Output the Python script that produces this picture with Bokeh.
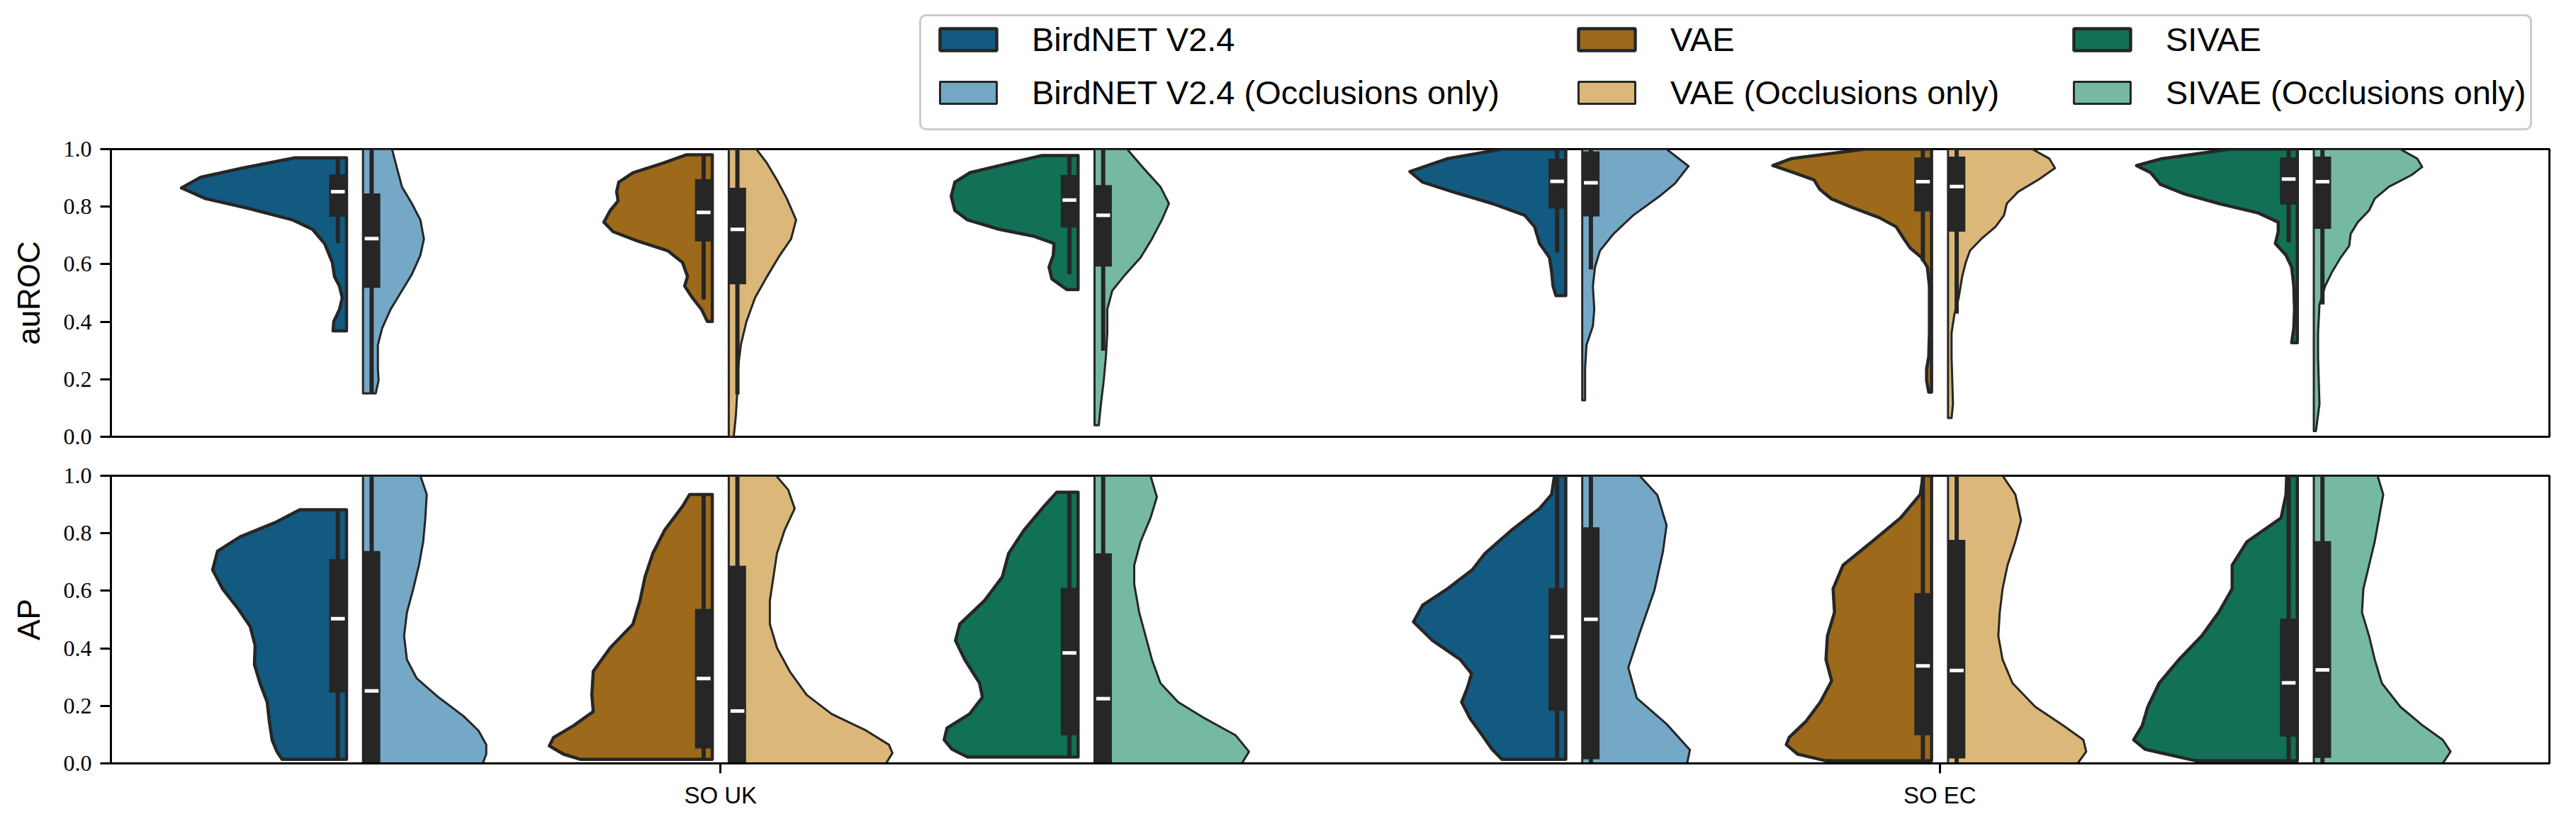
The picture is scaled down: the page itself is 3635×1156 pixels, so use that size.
from bokeh.plotting import figure
from bokeh.layouts import column
from bokeh.models import (Legend, LegendItem, FixedTicker, Range1d, ColumnDataSource,
                          PrintfTickFormatter, BoxAnnotation)
from bokeh.embed import file_html
from bokeh.resources import INLINE

# ---------------------------------------------------------------- data
categories = ["SO UK", "SO EC"]
models = ["BirdNET V2.4", "VAE", "SIVAE"]
variant_suffix = ["", " (Occlusions only)"]
metrics = ["auROC", "AP"]
y_ticks = [0.0, 0.2, 0.4, 0.6, 0.8, 1.0]

# Each violin half: values (top -> bottom), relative density at those values,
# box stats [q1, median, q3, whisker_low, whisker_high]
# ---- auROC
A_UK_BN_V = [0.970, 0.934, 0.902, 0.865, 0.828, 0.795, 0.754, 0.721, 0.672, 0.606, 0.557, 0.524, 0.483, 0.442, 0.401, 0.368]
A_UK_BN_D = [73, 147, 206, 233, 199, 140, 76, 48, 31, 20, 17, 10, 6, 10, 18, 19]
A_UK_BN_BOX = [0.765, 0.852, 0.912, 0.673, 0.970]

A_UK_BNO_V = [1.000, 0.934, 0.869, 0.811, 0.754, 0.688, 0.631, 0.565, 0.508, 0.443, 0.377, 0.319, 0.237, 0.196, 0.151]
A_UK_BNO_D = [41, 48, 55, 69, 81, 86, 81, 69, 55, 39, 27, 21, 21, 22, 18]
A_UK_BNO_BOX = [0.518, 0.689, 0.846, 0.151, 1.000]

A_UK_VAE_V = [0.980, 0.951, 0.918, 0.885, 0.852, 0.820, 0.787, 0.746, 0.713, 0.680, 0.647, 0.606, 0.557, 0.524, 0.483, 0.442, 0.401]
A_UK_VAE_D = [37, 70, 112, 132, 135, 133, 144, 153, 140, 105, 63, 42, 35, 39, 28, 15, 7]
A_UK_VAE_BOX = [0.679, 0.780, 0.896, 0.477, 0.980]

A_UK_VAEO_V = [1.000, 0.951, 0.893, 0.828, 0.754, 0.688, 0.631, 0.557, 0.483, 0.401, 0.319, 0.237, 0.155, 0.073, 0.000]
A_UK_VAEO_D = [39, 54, 68, 82, 95, 88, 72, 54, 37, 25, 17, 13, 12, 10, 7]
A_UK_VAEO_BOX = [0.530, 0.721, 0.866, 0.147, 1.000]

A_UK_SI_V = [0.978, 0.951, 0.918, 0.885, 0.836, 0.787, 0.754, 0.721, 0.697, 0.672, 0.631, 0.590, 0.549, 0.512]
A_UK_SI_D = [51, 97, 153, 174, 179, 174, 156, 111, 62, 34, 35, 41, 37, 16]
A_UK_SI_BOX = [0.727, 0.823, 0.910, 0.566, 0.978]

A_UK_SIO_V = [1.000, 0.934, 0.869, 0.811, 0.754, 0.688, 0.623, 0.557, 0.508, 0.443, 0.361, 0.278, 0.196, 0.114, 0.040]
A_UK_SIO_D = [46, 69, 93, 105, 95, 81, 65, 41, 25, 18, 18, 16, 13, 9, 6]
A_UK_SIO_BOX = [0.592, 0.770, 0.875, 0.299, 1.000]

A_EC_BN_V = [1.000, 0.967, 0.922, 0.885, 0.852, 0.811, 0.770, 0.730, 0.672, 0.623, 0.574, 0.524, 0.491]
A_EC_BN_D = [90, 167, 220, 202, 160, 104, 58, 44, 37, 23, 20, 18, 14]
A_EC_BN_BOX = [0.793, 0.888, 0.967, 0.641, 1.000]

A_EC_BNO_V = [1.000, 0.941, 0.881, 0.836, 0.770, 0.705, 0.647, 0.590, 0.524, 0.443, 0.385, 0.319, 0.237, 0.127]
A_EC_BNO_D = [119, 150, 131, 109, 72, 44, 25, 18, 15, 17, 15, 6, 4, 4]
A_EC_BNO_BOX = [0.766, 0.883, 0.992, 0.582, 1.000]

A_EC_VAE_V = [1.000, 0.967, 0.943, 0.918, 0.893, 0.861, 0.828, 0.795, 0.762, 0.730, 0.688, 0.656, 0.623, 0.590, 0.524, 0.361, 0.278, 0.237, 0.196, 0.155]
A_EC_VAE_D = [94, 198, 224, 194, 166, 158, 142, 110, 74, 50, 39, 30, 14, 6, 3, 3, 4, 7, 7, 4]
A_EC_VAE_BOX = [0.783, 0.887, 0.971, 0.611, 1.000]

A_EC_VAEO_V = [1.000, 0.967, 0.934, 0.893, 0.852, 0.811, 0.770, 0.730, 0.688, 0.647, 0.606, 0.557, 0.483, 0.426, 0.361, 0.278, 0.196, 0.114, 0.065]
A_EC_VAEO_D = [119, 143, 151, 127, 99, 83, 79, 67, 47, 31, 25, 20, 15, 9, 5, 5, 6, 7, 5]
A_EC_VAEO_BOX = [0.713, 0.870, 0.974, 0.428, 1.000]

A_EC_SI_V = [1.000, 0.967, 0.943, 0.918, 0.877, 0.844, 0.811, 0.778, 0.746, 0.713, 0.672, 0.631, 0.590, 0.524, 0.443, 0.377, 0.327]
A_EC_SI_D = [95, 191, 227, 207, 193, 159, 111, 55, 27, 27, 31, 16, 8, 5, 4, 5, 8]
A_EC_SI_BOX = [0.807, 0.896, 0.971, 0.676, 1.000]

A_EC_SIO_V = [1.000, 0.967, 0.938, 0.910, 0.869, 0.828, 0.787, 0.746, 0.705, 0.664, 0.623, 0.574, 0.524, 0.459, 0.361, 0.278, 0.196, 0.114, 0.020]
A_EC_SIO_D = [122, 146, 153, 138, 106, 86, 78, 62, 52, 50, 38, 26, 16, 8, 6, 6, 7, 8, 3]
A_EC_SIO_BOX = [0.723, 0.887, 0.974, 0.460, 1.000]

# ---- AP
P_UK_BN_V = [0.882, 0.837, 0.788, 0.738, 0.673, 0.607, 0.541, 0.476, 0.410, 0.344, 0.278, 0.213, 0.147, 0.081, 0.040, 0.014]
P_UK_BN_D = [66, 101, 150, 182, 189, 175, 154, 136, 129, 130, 122, 112, 109, 105, 98, 91]
P_UK_BN_BOX = [0.246, 0.503, 0.710, 0.014, 0.882]

P_UK_BNO_V = [1.000, 0.935, 0.853, 0.771, 0.689, 0.607, 0.525, 0.443, 0.361, 0.295, 0.229, 0.164, 0.114, 0.065, 0.032, 0.000]
P_UK_BNO_D = [81, 90, 88, 85, 79, 71, 62, 58, 62, 76, 107, 142, 163, 174, 174, 169]
P_UK_BNO_BOX = [0.000, 0.252, 0.738, 0.000, 1.000]

P_UK_VAE_V = [0.935, 0.894, 0.812, 0.730, 0.648, 0.566, 0.484, 0.402, 0.320, 0.238, 0.180, 0.131, 0.090, 0.061, 0.032, 0.014]
P_UK_VAE_D = [32, 42, 67, 84, 95, 102, 112, 144, 168, 170, 168, 196, 224, 230, 210, 186]
P_UK_VAE_BOX = [0.052, 0.295, 0.537, 0.014, 0.935]

P_UK_VAEO_V = [1.000, 0.951, 0.886, 0.812, 0.730, 0.648, 0.566, 0.484, 0.402, 0.320, 0.238, 0.172, 0.114, 0.065, 0.036, 0.000]
P_UK_VAEO_D = [67, 84, 93, 79, 68, 63, 58, 58, 68, 86, 110, 145, 194, 226, 231, 222]
P_UK_VAEO_BOX = [0.000, 0.182, 0.687, 0.000, 1.000]

P_UK_SI_V = [0.943, 0.894, 0.812, 0.730, 0.648, 0.566, 0.484, 0.427, 0.361, 0.279, 0.230, 0.172, 0.123, 0.082, 0.049, 0.022]
P_UK_SI_D = [30, 48, 76, 98, 107, 132, 167, 173, 160, 139, 135, 153, 185, 189, 178, 156]
P_UK_SI_BOX = [0.098, 0.384, 0.611, 0.022, 0.943]

P_UK_SIO_V = [1.000, 0.926, 0.853, 0.771, 0.689, 0.623, 0.525, 0.443, 0.361, 0.279, 0.213, 0.156, 0.098, 0.041, 0.000]
P_UK_SIO_D = [79, 88, 79, 65, 56, 56, 63, 72, 81, 93, 118, 156, 199, 218, 208]
P_UK_SIO_BOX = [0.000, 0.225, 0.730, 0.000, 1.000]

P_EC_BN_V = [1.000, 0.935, 0.886, 0.812, 0.730, 0.673, 0.607, 0.550, 0.492, 0.427, 0.361, 0.312, 0.262, 0.213, 0.156, 0.098, 0.049, 0.014]
P_EC_BN_D = [16, 20, 37, 76, 114, 132, 167, 202, 215, 188, 149, 133, 139, 147, 135, 118, 104, 90]
P_EC_BN_BOX = [0.183, 0.440, 0.609, 0.014, 1.000]

P_EC_BNO_V = [1.000, 0.933, 0.828, 0.738, 0.603, 0.453, 0.333, 0.227, 0.137, 0.047, 0.000]
P_EC_BNO_D = [81, 106, 119, 114, 102, 81, 65, 77, 119, 152, 148]
P_EC_BNO_BOX = [0.014, 0.501, 0.821, 0.000, 1.000]

P_EC_VAE_V = [1.000, 0.935, 0.853, 0.771, 0.689, 0.607, 0.525, 0.443, 0.361, 0.287, 0.213, 0.147, 0.090, 0.065, 0.032, 0.009]
P_EC_VAE_D = [12, 16, 44, 84, 125, 139, 137, 147, 149, 141, 157, 177, 201, 205, 189, 149]
P_EC_VAE_BOX = [0.098, 0.339, 0.592, 0.009, 1.000]

P_EC_VAEO_V = [1.000, 0.935, 0.845, 0.771, 0.689, 0.607, 0.525, 0.443, 0.361, 0.279, 0.197, 0.131, 0.082, 0.041, 0.000]
P_EC_VAEO_D = [77, 95, 103, 95, 84, 77, 73, 71, 77, 91, 123, 163, 191, 195, 183]
P_EC_VAEO_BOX = [0.017, 0.323, 0.777, 0.000, 1.000]

P_EC_SI_V = [1.000, 0.935, 0.853, 0.771, 0.689, 0.607, 0.525, 0.443, 0.361, 0.279, 0.197, 0.131, 0.082, 0.049, 0.009]
P_EC_SI_D = [15, 16, 23, 71, 92, 92, 111, 135, 167, 195, 211, 219, 231, 215, 143]
P_EC_SI_BOX = [0.093, 0.280, 0.503, 0.009, 1.000]

P_EC_SIO_V = [1.000, 0.935, 0.853, 0.771, 0.689, 0.607, 0.525, 0.443, 0.361, 0.279, 0.197, 0.131, 0.082, 0.041, 0.000]
P_EC_SIO_D = [90, 98, 92, 86, 78, 70, 68, 78, 86, 96, 122, 154, 182, 193, 182]
P_EC_SIO_BOX = [0.019, 0.325, 0.773, 0.000, 1.000]

VIOLINS = {
    ("auROC", 0, "BirdNET V2.4", 0): (A_UK_BN_V, A_UK_BN_D, A_UK_BN_BOX),
    ("auROC", 0, "BirdNET V2.4", 1): (A_UK_BNO_V, A_UK_BNO_D, A_UK_BNO_BOX),
    ("auROC", 0, "VAE", 0): (A_UK_VAE_V, A_UK_VAE_D, A_UK_VAE_BOX),
    ("auROC", 0, "VAE", 1): (A_UK_VAEO_V, A_UK_VAEO_D, A_UK_VAEO_BOX),
    ("auROC", 0, "SIVAE", 0): (A_UK_SI_V, A_UK_SI_D, A_UK_SI_BOX),
    ("auROC", 0, "SIVAE", 1): (A_UK_SIO_V, A_UK_SIO_D, A_UK_SIO_BOX),
    ("auROC", 1, "BirdNET V2.4", 0): (A_EC_BN_V, A_EC_BN_D, A_EC_BN_BOX),
    ("auROC", 1, "BirdNET V2.4", 1): (A_EC_BNO_V, A_EC_BNO_D, A_EC_BNO_BOX),
    ("auROC", 1, "VAE", 0): (A_EC_VAE_V, A_EC_VAE_D, A_EC_VAE_BOX),
    ("auROC", 1, "VAE", 1): (A_EC_VAEO_V, A_EC_VAEO_D, A_EC_VAEO_BOX),
    ("auROC", 1, "SIVAE", 0): (A_EC_SI_V, A_EC_SI_D, A_EC_SI_BOX),
    ("auROC", 1, "SIVAE", 1): (A_EC_SIO_V, A_EC_SIO_D, A_EC_SIO_BOX),
    ("AP", 0, "BirdNET V2.4", 0): (P_UK_BN_V, P_UK_BN_D, P_UK_BN_BOX),
    ("AP", 0, "BirdNET V2.4", 1): (P_UK_BNO_V, P_UK_BNO_D, P_UK_BNO_BOX),
    ("AP", 0, "VAE", 0): (P_UK_VAE_V, P_UK_VAE_D, P_UK_VAE_BOX),
    ("AP", 0, "VAE", 1): (P_UK_VAEO_V, P_UK_VAEO_D, P_UK_VAEO_BOX),
    ("AP", 0, "SIVAE", 0): (P_UK_SI_V, P_UK_SI_D, P_UK_SI_BOX),
    ("AP", 0, "SIVAE", 1): (P_UK_SIO_V, P_UK_SIO_D, P_UK_SIO_BOX),
    ("AP", 1, "BirdNET V2.4", 0): (P_EC_BN_V, P_EC_BN_D, P_EC_BN_BOX),
    ("AP", 1, "BirdNET V2.4", 1): (P_EC_BNO_V, P_EC_BNO_D, P_EC_BNO_BOX),
    ("AP", 1, "VAE", 0): (P_EC_VAE_V, P_EC_VAE_D, P_EC_VAE_BOX),
    ("AP", 1, "VAE", 1): (P_EC_VAEO_V, P_EC_VAEO_D, P_EC_VAEO_BOX),
    ("AP", 1, "SIVAE", 0): (P_EC_SI_V, P_EC_SI_D, P_EC_SI_BOX),
    ("AP", 1, "SIVAE", 1): (P_EC_SIO_V, P_EC_SIO_D, P_EC_SIO_BOX),
}

# ---------------------------------------------------------------- style
DARK = {"BirdNET V2.4": "#135A80", "VAE": "#9C6A1A", "SIVAE": "#117055"}
LIGHT = {"BirdNET V2.4": "#75A8C7", "VAE": "#DBB87A", "SIVAE": "#75B9A5"}
EDGE = "#262626"
HUE_OFFSET = {"BirdNET V2.4": -0.3, "VAE": 0.0, "SIVAE": 0.3}
GAP = 0.0135      # gap between the two halves
BOXW = 0.0142     # width of the inner box
MAXW = 0.1354     # half-width of the widest violin
DMAX = max(max(d) for (_, d, _) in VIOLINS.values())

FRAME_W = 3441
FRAME_H = 406
LEFT_B = 156
RIGHT_B = 22


def make_panel(metric, top_border, bottom_border, show_x):
    p = figure(frame_width=FRAME_W, frame_height=FRAME_H,
               x_range=Range1d(-0.5, 1.5), y_range=Range1d(0, 1),
               output_backend="svg", toolbar_location=None, title=None,
               min_border_left=LEFT_B, min_border_right=RIGHT_B,
               min_border_top=top_border, min_border_bottom=bottom_border,
               background_fill_color="white", border_fill_color="white")
    renderers = {}
    bx, bl, br, q1s, q3s, meds, los, his = [], [], [], [], [], [], [], []
    for model in models:
        for var in (0, 1):
            xs, ys = [], []
            side = -1 if var == 0 else 1
            for ci in range(len(categories)):
                v, d, box = VIOLINS[(metric, ci, model, var)]
                center = ci + HUE_OFFSET[model]
                edge = center + side * GAP / 2
                px = [edge + side * di / DMAX * MAXW for di in d] + [edge, edge]
                py = list(v) + [v[-1], v[0]]
                xs.append(px)
                ys.append(py)
                c = edge + side * BOXW / 2
                bx.append(c)
                bl.append(c - BOXW / 2)
                br.append(c + BOXW / 2)
                q1s.append(box[0]); meds.append(box[1]); q3s.append(box[2])
                los.append(box[3]); his.append(box[4])
            r = p.patches(xs, ys,
                          fill_color=DARK[model] if var == 0 else LIGHT[model],
                          line_color=EDGE, line_width=4.5 if var == 0 else 3,
                          line_join="round")
            renderers[(model, var)] = r
    src = ColumnDataSource(dict(x=bx, l=bl, r=br, q1=q1s, q3=q3s, med=meds, lo=los, hi=his,
                                ml=[c - 0.4 * BOXW for c in bx], mr=[c + 0.4 * BOXW for c in bx]))
    p.segment(x0="x", y0="lo", x1="x", y1="hi", source=src, line_color=EDGE, line_width=6)
    p.quad(left="l", right="r", bottom="q1", top="q3", source=src, fill_color=EDGE, line_color=None)
    p.segment(x0="ml", y0="med", x1="mr", y1="med", source=src, line_color="white", line_width=5)

    p.xgrid.visible = False
    p.ygrid.visible = False
    p.outline_line_color = "black"
    p.outline_line_width = 3
    p.outline_line_alpha = 1

    ya = p.yaxis[0]
    ya.ticker = FixedTicker(ticks=y_ticks)
    ya.formatter = PrintfTickFormatter(format="%.1f")
    ya.major_label_text_font = "Liberation Serif"
    ya.major_label_text_font_size = "32px"
    ya.major_label_text_color = "black"
    ya.major_tick_out = 15
    ya.major_tick_in = 0
    ya.major_tick_line_width = 3
    ya.major_tick_line_color = "black"
    ya.minor_tick_line_color = None
    ya.axis_line_width = 3
    ya.axis_line_color = "black"
    ya.major_label_standoff = 12
    ya.axis_label = metric
    ya.axis_label_text_font = "Liberation Sans"
    ya.axis_label_text_font_size = "44px"
    ya.axis_label_text_font_style = "normal"
    ya.axis_label_text_color = "black"
    ya.axis_label_standoff = 22

    xa = p.xaxis[0]
    if show_x:
        xa.ticker = FixedTicker(ticks=[0, 1])
        xa.major_label_overrides = {0: categories[0], 1: categories[1]}
        xa.major_label_text_font = "Liberation Sans"
        xa.major_label_text_font_size = "33px"
        xa.major_label_text_color = "black"
        xa.major_tick_out = 14
        xa.major_tick_in = 0
        xa.major_tick_line_width = 3
        xa.major_tick_line_color = "black"
        xa.minor_tick_line_color = None
        xa.axis_line_width = 3
        xa.axis_line_color = "black"
        xa.major_label_standoff = 12
    else:
        xa.visible = False
    return p, renderers


# ---------------------------------------------------------------- legend strip
LEG_H = 185
p0 = figure(frame_width=FRAME_W, frame_height=LEG_H,
            x_range=Range1d(0, FRAME_W), y_range=Range1d(0, LEG_H),
            output_backend="svg", toolbar_location=None, title=None,
            min_border_left=LEFT_B, min_border_right=RIGHT_B,
            min_border_top=0, min_border_bottom=0,
            outline_line_color=None, background_fill_color="white",
            border_fill_color="white")
p0.axis.visible = False
p0.grid.visible = False

frame_box = BoxAnnotation(left=1142, right=3415, bottom=3, top=164,
                          fill_color="white", fill_alpha=1.0,
                          line_color="#CCCCCC", line_width=3, line_alpha=1.0)
try:
    frame_box.border_radius = 8
except Exception:
    pass
p0.add_layout(frame_box)

# legend-only glyphs (placed outside the visible strip)
legend_x = {"BirdNET V2.4": 1160, "VAE": 2061, "SIVAE": 2760}
for model in models:
    items = []
    for var in (0, 1):
        dummy = p0.patch(x=[-500, -400, -400], y=[-500, -500, -400],
                         fill_color=DARK[model] if var == 0 else LIGHT[model],
                         line_color=EDGE, line_width=4.5 if var == 0 else 3)
        items.append(LegendItem(label=model + variant_suffix[var], renderers=[dummy]))
    lg = Legend(items=items, orientation="vertical", location=(legend_x[model], 27))
    lg.label_text_font = "Liberation Sans"
    lg.label_text_font_size = "47px"
    lg.label_text_color = "black"
    lg.glyph_width = 100
    lg.glyph_height = 39
    lg.label_standoff = 40
    lg.spacing = 20
    lg.padding = 0
    lg.margin = 0
    lg.border_line_color = None
    lg.background_fill_alpha = 0.0
    p0.add_layout(lg)

p1, _ = make_panel("auROC", 25, 27, False)
p2, _ = make_panel("AP", 28, 63, True)

layout = column(p0, p1, p2, spacing=0)
html = file_html(layout, INLINE, "violins")
open("out.html", "w").write(html)
